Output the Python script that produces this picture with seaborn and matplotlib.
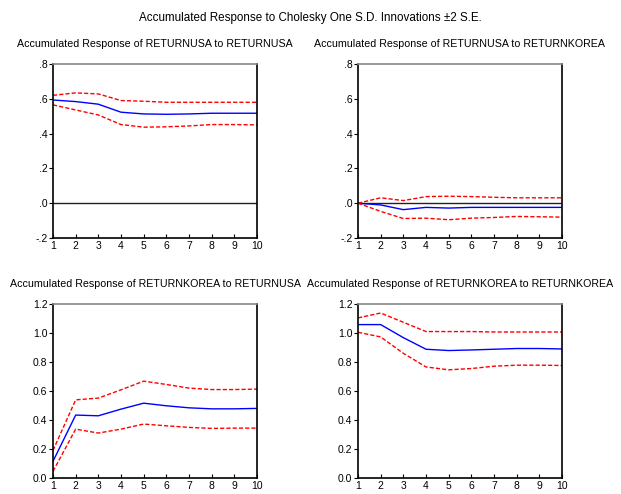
import matplotlib
matplotlib.use("Agg")
import matplotlib.pyplot as plt
import seaborn as sns
import pandas as pd

# --- Data ---
periods = [1, 2, 3, 4, 5, 6, 7, 8, 9, 10]

usa_usa = [0.593, 0.584, 0.569, 0.523, 0.513, 0.511, 0.513, 0.517, 0.517, 0.517]
usa_usa_hi = [0.620, 0.634, 0.628, 0.590, 0.586, 0.580, 0.580, 0.580, 0.580, 0.580]
usa_usa_lo = [0.565, 0.536, 0.507, 0.452, 0.437, 0.439, 0.444, 0.452, 0.452, 0.450]

usa_kor = [0.0, -0.010, -0.037, -0.024, -0.028, -0.024, -0.024, -0.024, -0.024, -0.024]
usa_kor_hi = [0.0, 0.031, 0.015, 0.038, 0.040, 0.038, 0.034, 0.031, 0.031, 0.031]
usa_kor_lo = [0.0, -0.047, -0.088, -0.086, -0.095, -0.086, -0.082, -0.076, -0.078, -0.080]

kor_usa = [0.115, 0.434, 0.429, 0.475, 0.516, 0.498, 0.484, 0.477, 0.477, 0.480]
kor_usa_hi = [0.190, 0.539, 0.551, 0.608, 0.668, 0.645, 0.620, 0.610, 0.610, 0.613]
kor_usa_lo = [0.046, 0.337, 0.310, 0.337, 0.372, 0.360, 0.349, 0.342, 0.344, 0.344]

kor_kor = [1.058, 1.058, 0.968, 0.888, 0.879, 0.883, 0.888, 0.893, 0.893, 0.890]
kor_kor_hi = [1.104, 1.138, 1.074, 1.010, 1.010, 1.010, 1.007, 1.007, 1.007, 1.007]
kor_kor_lo = [1.005, 0.973, 0.860, 0.766, 0.746, 0.755, 0.771, 0.778, 0.778, 0.776]

panel_titles = [
    "Accumulated Response of RETURNUSA to RETURNUSA",
    "Accumulated Response of RETURNUSA to RETURNKOREA",
    "Accumulated Response of RETURNKOREA to RETURNUSA",
    "Accumulated Response of RETURNKOREA to RETURNKOREA",
]
top_yticks = [-0.2, 0.0, 0.2, 0.4, 0.6, 0.8]
top_ylabels = ["-.2", ".0", ".2", ".4", ".6", ".8"]
bottom_yticks = [0.0, 0.2, 0.4, 0.6, 0.8, 1.0, 1.2]
bottom_ylabels = ["0.0", "0.2", "0.4", "0.6", "0.8", "1.0", "1.2"]

sns.set_theme(style="white")
plt.rcParams["font.family"] = ["Liberation Sans", "DejaVu Sans"]

panels = [
    (usa_usa, usa_usa_hi, usa_usa_lo),
    (usa_kor, usa_kor_hi, usa_kor_lo),
    (kor_usa, kor_usa_hi, kor_usa_lo),
    (kor_kor, kor_kor_hi, kor_kor_lo),
]

fig = plt.figure(figsize=(6.21, 4.94), dpi=100)
W, H = 621, 494
boxes = [(53, 64), (358, 64), (53, 304), (358, 304)]
aw, ah = 204, 174

for i, ((mid, hi, lo), (x0, y0)) in enumerate(zip(panels, boxes)):
    ax = fig.add_axes([x0 / W, 1 - (y0 + ah) / H, aw / W, ah / H])
    df = pd.DataFrame({"period": periods * 3,
                       "value": mid + hi + lo,
                       "band": ["mid"] * 10 + ["hi"] * 10 + ["lo"] * 10})
    sns.lineplot(data=df[df.band == "mid"], x="period", y="value", color="#0000ff",
                 lw=1.0, ax=ax, legend=False)
    for b in ["hi", "lo"]:
        sns.lineplot(data=df[df.band == b], x="period", y="value", color="#ff0000",
                     lw=1.0, ax=ax, legend=False, linestyle=(0, (3, 1.5)))
    if i < 2:
        ax.axhline(0, color="#222222", lw=1.0, zorder=1)
        ax.set_ylim(-0.2, 0.8)
        ax.set_yticks(top_yticks)
        ax.set_yticklabels(top_ylabels)
    else:
        ax.set_ylim(0.0, 1.2)
        ax.set_yticks(bottom_yticks)
        ax.set_yticklabels(bottom_ylabels)
    ax.set_xlim(1, 10)
    ax.set_xticks(periods)
    ax.set_xlabel("")
    ax.set_ylabel("")
    ax.tick_params(axis="y", direction="out", length=3, width=0.8, left=True,
                   labelsize=7.5, pad=1, colors="black")
    ax.tick_params(axis="x", direction="in", length=3, width=0.8, bottom=True,
                   labelsize=7.5, pad=2, colors="black")
    for side, sp in ax.spines.items():
        sp.set_color("black")
        sp.set_linewidth(1.2)
    ax.spines["top"].set_color("#888888")
    ax.set_title(panel_titles[i], fontsize=7.7, pad=12, color="black")

fig.text(0.5, 1 - 18 / H, "Accumulated Response to Cholesky One S.D. Innovations \u00b12 S.E.",
         ha="center", va="center", fontsize=8.4, color="black")

plt.savefig("out.png", dpi=100)
